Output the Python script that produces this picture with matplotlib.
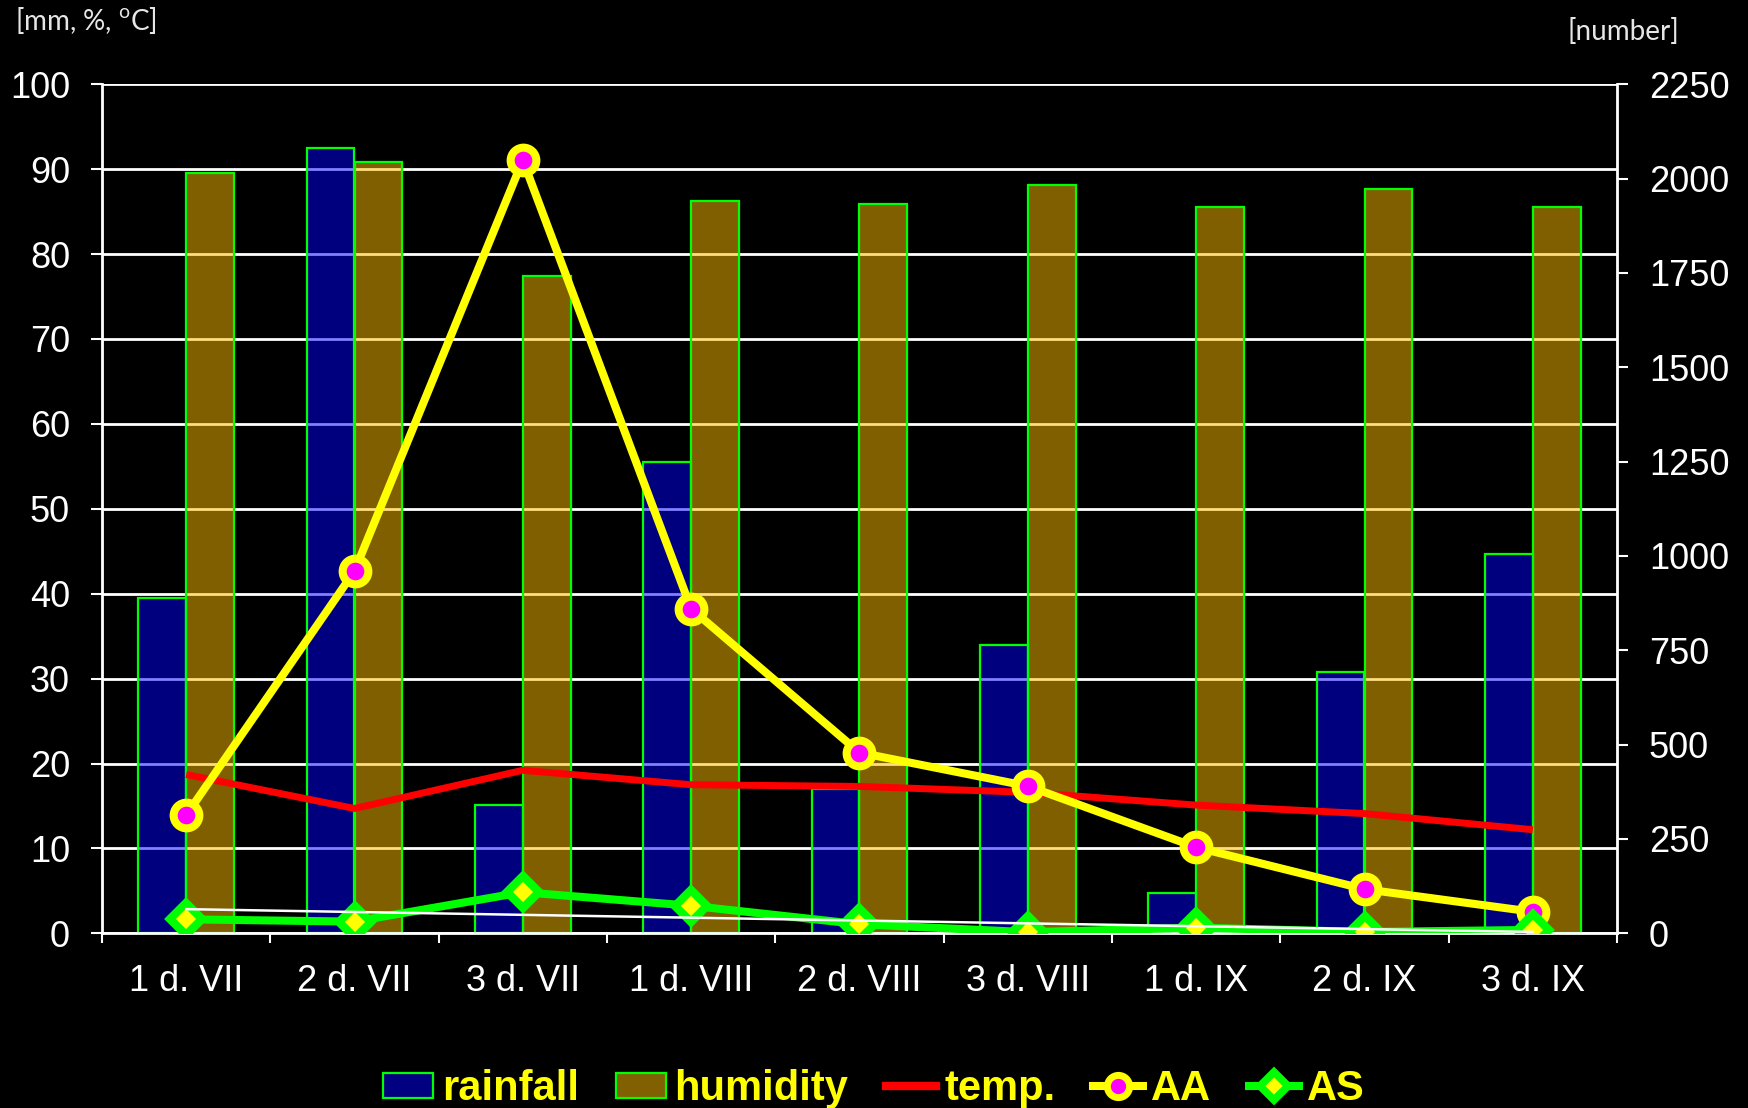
import numpy as np
import matplotlib
matplotlib.use("Agg")
import matplotlib.pyplot as plt
from matplotlib.lines import Line2D
from matplotlib.patches import Patch

# ten-day periods, July-September
categories = ["1 d. VII", "2 d. VII", "3 d. VII", "1 d. VIII", "2 d. VIII",
              "3 d. VIII", "1 d. IX", "2 d. IX", "3 d. IX"]
rainfall = [39.5, 92.5, 15.1, 55.5, 17.0, 34.0, 4.8, 30.8, 44.7]       # mm
humidity = [89.6, 90.8, 77.4, 86.3, 85.9, 88.1, 85.5, 87.7, 85.6]      # %
temperature = [18.7, 14.7, 19.2, 17.5, 17.3, 16.6, 15.1, 14.1, 12.2]   # oC
aa_count = [313, 960, 2049, 860, 479, 390, 228, 117, 57]               # number
as_count = [37, 31, 109, 73, 24, 3, 15, 3.5, 9]                        # number

left_ticks = list(range(0, 101, 10))
right_ticks = list(range(0, 2251, 250))

plt.rcParams["font.family"] = ["Liberation Sans", "DejaVu Sans"]
plt.rcParams["mathtext.fontset"] = "custom"
plt.rcParams["mathtext.rm"] = "Lato"

W, H = 1748, 1108
fig = plt.figure(figsize=(W / 100, H / 100), dpi=100, facecolor="black")
x0, x1, y0, y1 = 102, 1617, 933.3, 84.3
ax = fig.add_axes([x0 / W, 1 - y0 / H, (x1 - x0) / W, (y0 - y1) / H])
ax.set_facecolor("black")

x = np.arange(len(categories))
bw = 0.285

ax.set_axisbelow(True)
ax.yaxis.grid(True, color="white", linewidth=2.0)
ax.bar(x - bw / 2, rainfall, width=bw, facecolor=(0, 0, 1, 0.5),
       edgecolor="#00ff00", linewidth=1.6, zorder=2)
ax.bar(x + bw / 2, humidity, width=bw, facecolor=(1, 0.75, 0, 0.5),
       edgecolor="#00ff00", linewidth=1.6, zorder=2)
ax.plot(x, temperature, color="red", linewidth=5.0, zorder=3,
        solid_capstyle="butt")

ax.set_xlim(-0.5, len(categories) - 0.5)
ax.set_ylim(0, 100)
ax.set_yticks(left_ticks)
ax.set_xticks(x)
ax.set_xticklabels(categories)
ax.set_xticks(np.arange(-0.5, len(categories), 1.0), minor=True)
ax.tick_params(axis="x", which="major", length=0, pad=22, labelsize=26,
               labelcolor="white")
ax.tick_params(axis="x", which="minor", length=7.5, width=1.5, color="white",
               direction="out")
ax.tick_params(axis="y", length=8, width=1.5, color="white", pad=15,
               labelsize=26, labelcolor="white", direction="out")
for side in ("top", "right"):
    ax.spines[side].set_visible(False)
for side in ("left", "bottom"):
    ax.spines[side].set_color("white")
    ax.spines[side].set_linewidth(2)

# counts on the secondary axis
ax2 = ax.twinx()
ax2.set_ylim(0, 2250)
ax2.set_yticks(right_ticks)
ax2.tick_params(axis="y", length=8, width=1.5, color="white", pad=15,
                labelsize=26, labelcolor="white", direction="out")
for side in ("top", "left", "bottom"):
    ax2.spines[side].set_visible(False)
ax2.spines["right"].set_color("white")
ax2.spines["right"].set_linewidth(2)

ax2.plot(x, aa_count, color="yellow", linewidth=5.8, marker="o",
         markersize=18.5, markerfacecolor="magenta", markeredgecolor="yellow",
         markeredgewidth=5.8, zorder=3)
ax2.plot(x, as_count, color="#00ff00", linewidth=5.8, marker="D",
         markersize=16.5, markerfacecolor="yellow", markeredgecolor="#00ff00",
         markeredgewidth=6, zorder=4)

# linear trend of AS
coef = np.polyfit(x, as_count, 1)
ax2.plot(x, np.polyval(coef, x), color="white", linewidth=1.8, zorder=5)

fig.text(15 / W, 1 - 21 / H, "[mm, %, $^{\\mathrm{o}}$C]", color="#e6e6e6",
         fontsize=20, family="Lato", ha="left", va="center")
fig.text(1568 / W, 1 - 32 / H, "[number]", color="#e6e6e6",
         fontsize=20, family="Lato", ha="left", va="center")

handles = [
    Patch(facecolor="#000080", edgecolor="#00ff00", linewidth=1.6),
    Patch(facecolor="#806000", edgecolor="#00ff00", linewidth=1.6),
    Line2D([], [], color="red", linewidth=6),
    Line2D([], [], color="yellow", linewidth=5.8, marker="o", markersize=16,
           markerfacecolor="magenta", markeredgecolor="yellow",
           markeredgewidth=5),
    Line2D([], [], color="#00ff00", linewidth=5.8, marker="D", markersize=14,
           markerfacecolor="yellow", markeredgecolor="#00ff00",
           markeredgewidth=5.5),
]
labels = ["rainfall", "humidity", "temp.", "AA", "AS"]
leg = fig.legend(handles, labels, loc="center", bbox_to_anchor=(0.5, 19 / H),
                 ncol=5, frameon=False, handlelength=1.2, handleheight=0.55,
                 handletextpad=0.2, columnspacing=0.9, borderpad=0,
                 prop={"family": "Liberation Sans", "weight": "bold",
                       "size": 30})
for t in leg.get_texts():
    t.set_color("yellow")

fig.savefig("out.png", dpi=100, facecolor="black")
